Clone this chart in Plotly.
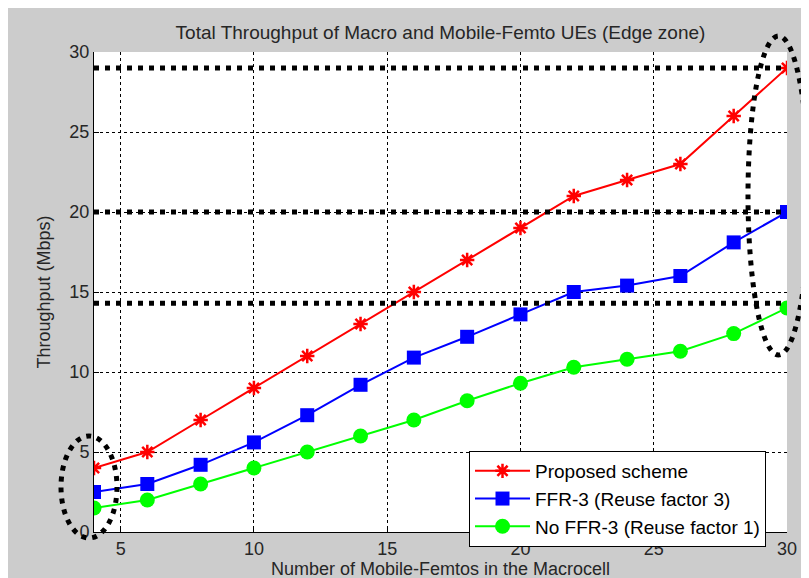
import plotly.graph_objects as go

# Number of mobile femtos
femtos = [4, 6, 8, 10, 12, 14, 16, 18, 20, 22, 24, 26, 28, 30]
proposed = [4, 5, 7, 9, 11, 13, 15, 17, 19, 21, 22, 23, 26, 29]
ffr3 = [2.5, 3, 4.2, 5.6, 7.3, 9.2, 10.9, 12.2, 13.6, 15, 15.4, 16, 18.1, 20]
no_ffr3 = [1.5, 2, 3, 4, 5, 6, 7, 8.2, 9.3, 10.3, 10.8, 11.3, 12.4, 14]
ref_levels = [29, 20, 14.3]
x_ticks = [5, 10, 15, 20, 25, 30]
y_ticks = [0, 5, 10, 15, 20, 25, 30]

FONT = "Liberation Sans, Arial, sans-serif"
TXT = '#262626'
W, H = 809, 578
ML, MR, MT, MB = 86, 30, 44, 54
PW, PH = W - ML - MR, H - MT - MB

def px(x):
	return (x - ML) / PW

def py(y):
	return (H - MB - y) / PH

fig = go.Figure()
fig.add_trace(go.Scatter(x=femtos, y=proposed, mode='lines+markers', name='Proposed scheme',
                         line=dict(color='#ff0000', width=2),
                         marker=dict(symbol='asterisk-open', size=12, color='#ff0000',
                                     line=dict(color='#ff0000', width=2.5))))
fig.add_trace(go.Scatter(x=femtos, y=ffr3, mode='lines+markers', name='FFR-3 (Reuse factor 3)',
                         line=dict(color='#0000ff', width=2),
                         marker=dict(symbol='square', size=14, color='#0000ff')))
fig.add_trace(go.Scatter(x=femtos, y=no_ffr3, mode='lines+markers', name='No FFR-3 (Reuse factor 1)',
                         line=dict(color='#00ff00', width=2),
                         marker=dict(symbol='circle', size=15, color='#00ff00')))

shapes = []
for lvl in ref_levels:
	shapes.append(dict(type='line', xref='paper', yref='y', x0=0, x1=1, y0=lvl, y1=lvl,
	                   line=dict(color='black', width=5, dash='5px,6px'), layer='above'))
# highlight ellipses
shapes.append(dict(type='circle', xref='paper', yref='paper',
                   x0=px(53), x1=px(109), y0=py(530), y1=py(428),
                   line=dict(color='black', width=5, dash='5px,6px')))
shapes.append(dict(type='circle', xref='paper', yref='paper',
                   x0=px(740), x1=px(801), y0=py(347), y1=py(28),
                   line=dict(color='black', width=5, dash='5px,6px')))

axis_style = dict(showline=True, linecolor='black', linewidth=1, mirror=False,
                  ticks='inside', ticklen=5, tickcolor='black',
                  showgrid=True, gridcolor='black', gridwidth=1, griddash='3px,3px',
                  zeroline=False, tickfont=dict(family=FONT, size=18, color=TXT))

fig.update_layout(
	width=W, height=H,
	margin=dict(l=ML, r=MR, t=MT, b=MB),
	paper_bgcolor='#cccccc', plot_bgcolor='white',
	font=dict(family=FONT, color=TXT),
	title=dict(text='Total Throughput of Macro and Mobile-Femto UEs (Edge zone)',
	           x=0.5, xref='paper', xanchor='center', y=1 - 24 / H, yref='container', yanchor='middle',
	           font=dict(family=FONT, size=19, color=TXT)),
	xaxis=dict(range=[4, 30], tickvals=x_ticks,
	           title=dict(text='Number of Mobile-Femtos in the Macrocell', standoff=2,
	                      font=dict(family=FONT, size=18, color=TXT)), **axis_style),
	yaxis=dict(range=[0, 30], tickvals=y_ticks,
	           title=dict(text='Throughput (Mbps)', standoff=14,
	                      font=dict(family=FONT, size=18, color=TXT)), **axis_style),
	legend=dict(x=px(461), y=py(443), xanchor='left', yanchor='top',
	            bgcolor='white', bordercolor='black', borderwidth=1, itemwidth=55,
	            font=dict(family=FONT, size=19, color='black'), tracegroupgap=0),
	shapes=shapes,
)

fig.write_html("out.html")
